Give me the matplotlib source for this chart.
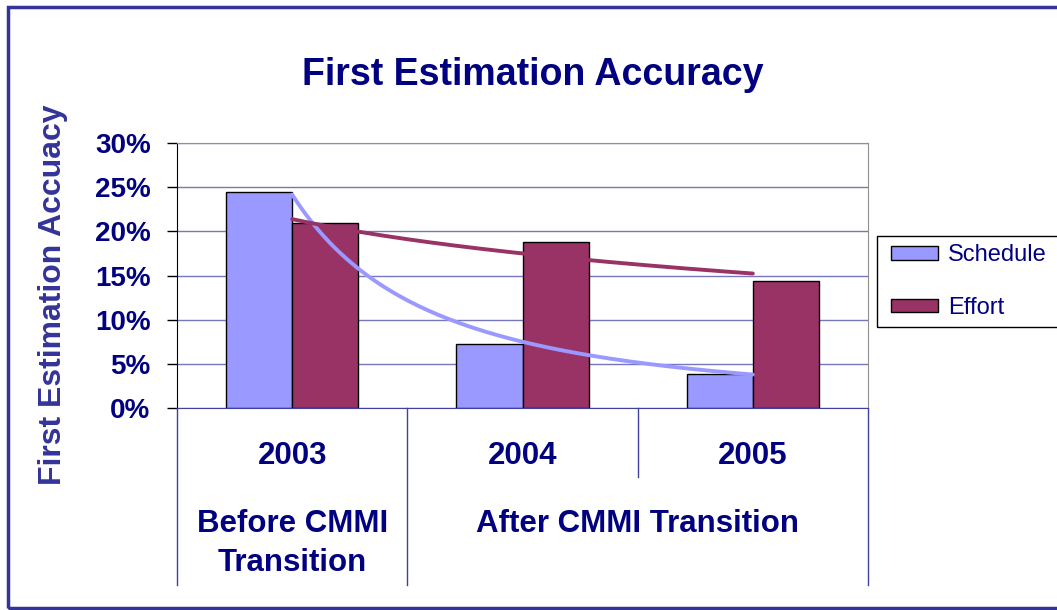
import numpy as np
import matplotlib
matplotlib.use('Agg')
import matplotlib.pyplot as plt
from matplotlib.patches import Rectangle
from matplotlib.ticker import FuncFormatter
from matplotlib.transforms import blended_transform_factory

plt.rcParams['font.family'] = ['Liberation Sans', 'DejaVu Sans']

# data
years = ['2003', '2004', '2005']
schedule = [0.244, 0.073, 0.0385]
effort = [0.209, 0.188, 0.144]
phases = ['Before CMMI\nTransition', 'After CMMI Transition']
phase_centers = [0, 1.5]

navy = '#000080'
blue_line = '#4040a0'

fig = plt.figure(figsize=(10.57, 6.10), dpi=100)
ax = fig.add_axes([177/1057, 1-408/610, (868-177)/1057, (408-143)/610])

x = np.arange(len(years))
w = 0.287
ax.bar(x - w, schedule, w, align='edge', color='#9999ff', edgecolor='black', linewidth=1, label='Schedule', zorder=3)
ax.bar(x, effort, w, align='edge', color='#993366', edgecolor='black', linewidth=1, label='Effort', zorder=3)

# trendlines like excel: power for schedule, logarithmic for effort
t = x + 1
xs = np.linspace(1, 3, 200)
b, lna = np.polyfit(np.log(t), np.log(schedule), 1)
ax.plot(xs - 1, np.exp(lna) * xs ** b, color='#9999ff', lw=2.8, zorder=4, solid_capstyle='round')
a2, b2 = np.polyfit(np.log(t), effort, 1)
ax.plot(xs - 1, a2 * np.log(xs) + b2, color='#993366', lw=2.8, zorder=4, solid_capstyle='round')

ax.set_xlim(-0.5, 2.5)
ax.set_ylim(0, 0.30)
ax.set_yticks(np.arange(0, 0.301, 0.05))
ax.yaxis.set_major_formatter(FuncFormatter(lambda v, p: '%d%%' % round(v * 100)))
ax.tick_params(axis='y', direction='out', length=7, width=1, color='black', labelsize=20, labelcolor=navy, pad=12)
for lab in ax.get_yticklabels():
    lab.set_fontweight('bold')
ax.set_xticks([])
ax.grid(axis='y', color='#7777bb', lw=1, zorder=0)
ax.spines['left'].set_color('black')
ax.spines['top'].set_color('#909090')
ax.spines['right'].set_color('#909090')
ax.spines['bottom'].set_color(blue_line)

# category labels below the axis (two levels)
tr = blended_transform_factory(ax.transData, fig.transFigure)
for i, yr in enumerate(years):
    ax.text(i, 1-456/610, yr, transform=tr, ha='center', va='center', fontsize=22.5, fontweight='bold', color=navy)
for c, ph in zip(phase_centers, phases):
    if '\n' in ph:
        l1, l2 = ph.split('\n')
        ax.text(c, 1-524/610, l1, transform=tr, ha='center', va='center', fontsize=22.5, fontweight='bold', color=navy)
        ax.text(c, 1-563/610, l2, transform=tr, ha='center', va='center', fontsize=22.5, fontweight='bold', color=navy)
    else:
        ax.text(c, 1-524/610, ph, transform=tr, ha='center', va='center', fontsize=22.5, fontweight='bold', color=navy)

# separators
for xv, bottom in [(-0.5, 585), (0.5, 585), (1.5, 477), (2.5, 585)]:
    ax.plot([xv, xv], [1-408/610, 1-bottom/610], transform=tr, color=blue_line, lw=1, clip_on=False)

fig.text(533/1057, 1-75/610, 'First Estimation Accuracy', ha='center', va='center',
         fontsize=27, fontweight='bold', color=navy)
fig.text(53/1057, 1-295/610, 'First Estimation Accuacy', ha='center', va='center', rotation=90,
         fontsize=23, fontweight='bold', color='#333399')

# legend box runs off the right edge like the original
fig.patches.append(Rectangle((877/1057, 1-327/610), 0.2, 91/610, transform=fig.transFigure,
                             fill=False, edgecolor='black', lw=1))
leg = fig.legend(loc='upper left', bbox_to_anchor=(877/1057, 1-230/610), fontsize=17, labelcolor=navy,
                 frameon=False, handlelength=2.0, handleheight=0.5,
                 labelspacing=1.3, borderpad=0.6, handletextpad=0.4, borderaxespad=0)

# outer border
fig.patches.append(Rectangle((8/1057, 2/610), 1.2, 1-9/610, transform=fig.transFigure,
                             fill=False, edgecolor='#333399', lw=2.5))

fig.savefig('out.png', dpi=100)
